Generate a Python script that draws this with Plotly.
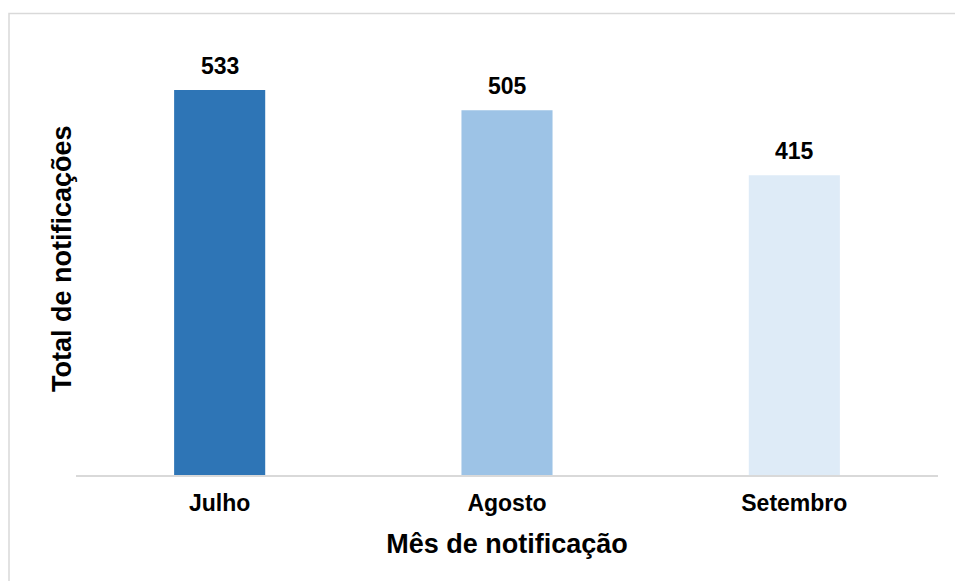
import plotly.graph_objects as go

months = ["Julho", "Agosto", "Setembro"]
totals = [533, 505, 415]
bar_colors = ["#2E75B6", "#9DC3E6", "#DEEBF7"]

W, H = 955, 581
ml, mr, mt, mb = 76, 17, 30, 106
pw, ph = W - ml - mr, H - mt - mb
FONT = "Liberation Sans, Arial"

fig = go.Figure(go.Bar(
    x=months, y=totals,
    marker=dict(color=bar_colors, line=dict(width=0)),
    hoverinfo="x+y",
))

annotations = [
    dict(x=m, y=v, xref="x", yref="y", text=f"<b>{v}</b>", showarrow=False,
         yanchor="bottom", yshift=9, font=dict(family=FONT, size=23, color="#000000"))
    for m, v in zip(months, totals)
]
annotations.append(dict(
    x=(62 - ml) / pw, y=(mt + ph - 259) / ph, xref="paper", yref="paper",
    text="<b>Total de notificações</b>", textangle=-90, showarrow=False,
    xanchor="center", yanchor="middle", font=dict(family=FONT, size=27, color="#000000"),
))

fig.update_layout(
    width=W, height=H,
    margin=dict(l=ml, r=mr, t=mt, b=mb),
    paper_bgcolor="white", plot_bgcolor="white",
    bargap=0.683, showlegend=False,
    font=dict(family=FONT, color="#000000"),
    xaxis=dict(
        showline=True, linecolor="#D9D9D9", linewidth=1.5,
        ticks="", showgrid=False,
        tickfont=dict(size=23), ticklabelstandoff=7,
        tickprefix="<b>", ticksuffix="</b>",
        title=dict(text="<b>Mês de notificação</b>", font=dict(size=27), standoff=19),
    ),
    yaxis=dict(
        range=[0, ph / (385 / 533)], showticklabels=False, showgrid=False,
        zeroline=False, ticks="",
    ),
    annotations=annotations,
    shapes=[dict(
        type="rect", xref="paper", yref="paper",
        x0=(9 - ml) / pw, x1=3,
        y0=-3, y1=1 + (mt - 13.5) / ph,
        line=dict(color="#D9D9D9", width=1.5), fillcolor="rgba(0,0,0,0)",
        layer="below",
    )],
)

fig.write_html(
    "out.html",
    config={"displayModeBar": False},
    post_script="document.body.style.margin='0';document.body.style.overflow='hidden';",
)
